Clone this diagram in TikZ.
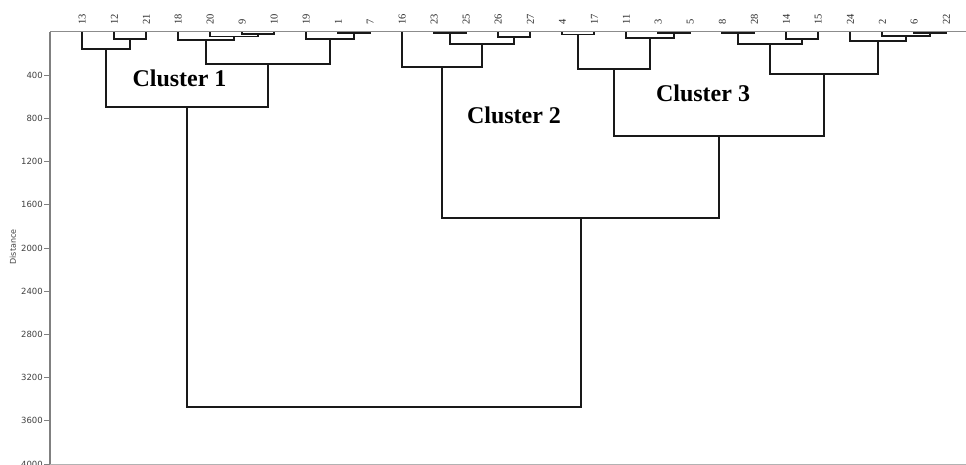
\documentclass[tikz,border=0pt]{standalone}
\usepackage{fontspec}
\setmainfont{Liberation Serif}
\newfontfamily\axfont{DejaVu Sans}
\usetikzlibrary{calc}
\tikzset{
  dg/.style={line width=1.8pt, black!90},
  axisline/.style={line width=1.4pt, color=black!50},
  leaf/.style={rotate=90, anchor=west, inner sep=0pt, font=\fontsize{10.5}{11}\selectfont, text=black!85},
  ticklab/.style={anchor=east, inner sep=0pt, font=\axfont\fontsize{8.5}{9}\selectfont, text=black!75},
  clab/.style={anchor=base, inner sep=0pt, font=\bfseries\fontsize{24}{26}\selectfont}
}
\newcommand\mrg[4]{%
  \path let \p1=(#2), \p2=(#3) in coordinate (#1) at ({0.5*\x1+0.5*\x2},{-#4pt});
  \draw[dg] (#2) |- (#1) -| (#3);
}
\begin{document}
\begin{tikzpicture}[x=1pt,y=-1pt]
\useasboundingbox (0,0) rectangle (966,465);
% axes
\draw[color=black!30, line width=0.8pt] (50,464) coordinate (bl) -- (966,464) coordinate (br);
\draw[color=black!45, line width=1pt] (50,32) coordinate (tl) -- (966,32) coordinate (tr);
\draw[axisline] (tl) -- (bl);
\foreach \v in {400,800,...,4000} {
  \pgfmathsetmacro\yy{32+0.108*\v}
  \coordinate (t\v) at (50,\yy);
  \draw[axisline, line width=1pt] (t\v) -- ++(-6,0) coordinate (te\v);
  \node[ticklab] (tl\v) at ($(te\v)+(-1,0)$) {\v};
}
\node[rotate=90, inner sep=0pt, font=\axfont\fontsize{8}{9}\selectfont, text=black!75] (dist) at (13,247) {Distance};
% leaves
\foreach \lab [count=\i from 0] in {13,12,21,18,20,9,10,19,1,7,16,23,25,26,27,4,17,11,3,5,8,28,14,15,24,2,6,22} {
  \node[leaf] (n\lab) at (82.3+32*\i,25) {\lab};
  \coordinate (p\lab) at (82.3+32*\i,32);
}
% cluster 1
\mrg{c1a}{p12}{p21}{39}
\mrg{c1b}{p13}{c1a}{49.3}
\mrg{c1c}{p9}{p10}{34}
\mrg{c1d}{p20}{c1c}{36.5}
\mrg{c1e}{p18}{c1d}{40}
\mrg{c1f}{p1}{p7}{33.3}
\mrg{c1g}{p19}{c1f}{39}
\mrg{c1h}{c1e}{c1g}{64.3}
\mrg{c1}{c1b}{c1h}{107.3}
% cluster 2
\mrg{c2a}{p23}{p25}{33}
\mrg{c2b}{p26}{p27}{36.7}
\mrg{c2c}{c2a}{c2b}{44}
\mrg{c2}{p16}{c2c}{66.7}
% cluster 3
\mrg{c3a}{p4}{p17}{34.5}
\mrg{c3b}{p3}{p5}{33.3}
\mrg{c3c}{p11}{c3b}{37.7}
\mrg{c3d}{c3a}{c3c}{69.3}
\mrg{c3e}{p8}{p28}{33}
\mrg{c3f}{p14}{p15}{39.2}
\mrg{c3g}{c3e}{c3f}{44}
\mrg{c3h}{p6}{p22}{33.2}
\mrg{c3i}{p2}{c3h}{36}
\mrg{c3j}{p24}{c3i}{40.7}
\mrg{c3k}{c3g}{c3j}{74.3}
\mrg{c3}{c3d}{c3k}{136}
\mrg{c23}{c2}{c3}{218}
\mrg{root}{c1}{c23}{407}
% cluster labels
\node[clab] (L1) at (179.5,86.5) {Cluster 1};
\node[clab] (L2) at (514,123.5) {Cluster 2};
\node[clab] (L3) at (703,102) {Cluster 3};
\end{tikzpicture}
\end{document}
